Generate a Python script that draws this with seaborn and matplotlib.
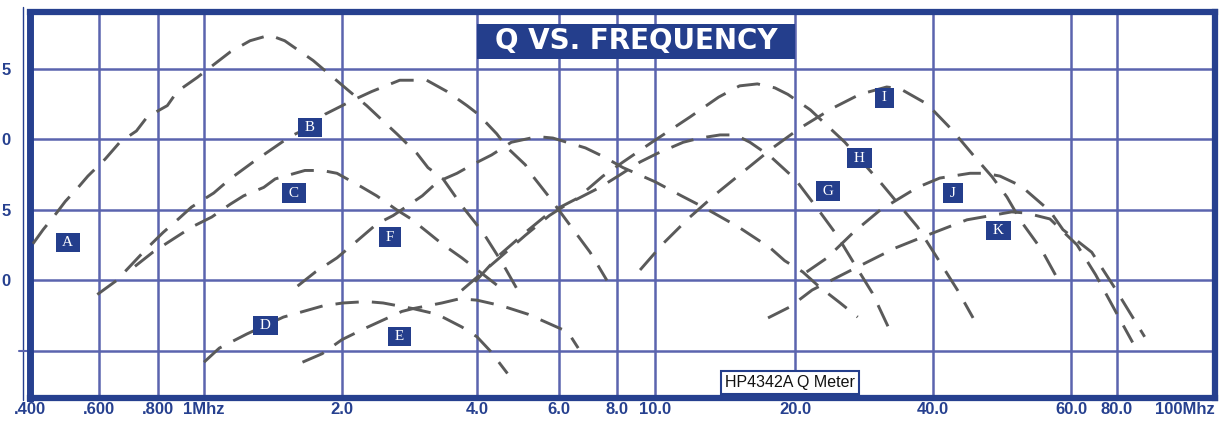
import numpy as np
import seaborn as sns
import matplotlib
matplotlib.use('Agg')
import matplotlib.pyplot as plt
from matplotlib.patches import Rectangle

sns.set_style('white')
plt.rcParams['font.family'] = ['Liberation Sans', 'DejaVu Sans']

border = '#26408F'
grid_c = '#5B64AE'
box_c = '#243E8C'
dash_c = '#5A5A5A'

# axis ticks
tick_freqs = [0.4, 0.6, 0.8, 1, 2, 4, 6, 8, 10, 20, 40, 60, 80, 100]
tick_labels = ['.400', '.600', '.800', '1Mhz', '2.0', '4.0', '6.0', '8.0',
               '10.0', '20.0', '40.0', '60.0', '80.0', '100Mhz']
q_ticks = [125, 150, 175, 200, 225]
q_labels = ['', '0', '5', '0', '5']

# Q curves, frequency in MHz
freq_A = [0.407, 0.432, 0.468, 0.492, 0.531, 0.562, 0.618, 0.664, 0.720, 0.759, 0.837, 0.878,
          0.968, 1.04, 1.14, 1.26, 1.39, 1.50, 1.73, 1.88, 2.08, 2.27, 2.49, 2.65, 2.94, 3.11,
          3.36, 3.72, 4.12, 4.54, 4.99]
q_A = [163, 168, 174, 178, 183, 187, 193, 199, 203, 208, 212, 217, 222, 226, 231, 235, 237, 235,
       228, 223, 217, 212, 206, 202, 195, 190, 186, 176, 167, 156, 144]

freq_B = [0.594, 0.654, 0.759, 0.820, 0.886, 0.941, 1.05, 1.14, 1.28, 1.39, 1.54, 1.68, 1.84,
          2.12, 2.33, 2.69, 2.91, 3.09, 3.43, 3.80, 4.02, 4.41, 4.65, 5.08, 5.27, 5.69, 6.31,
          7.0, 7.61]
q_B = [145, 150, 161.5, 167, 172, 176, 181, 186, 192, 196, 201, 204, 209, 214, 217, 221, 221,
       221, 217, 212, 209, 202, 197, 191, 187, 180, 170, 160, 150]

freq_C = [0.715, 0.780, 0.867, 0.944, 1.04, 1.14, 1.22, 1.35, 1.43, 1.66, 1.81, 1.95, 2.22,
          2.39, 2.65, 2.84, 3.11, 3.34, 3.70, 4.06, 4.52]
q_C = [155, 160, 165, 169, 172.5, 177, 180, 183, 186, 189, 189, 188, 183, 180, 175, 172, 167,
       163, 158, 153, 147]

freq_D = [1.0, 1.08, 1.24, 1.49, 1.82, 2.01, 2.27, 2.47, 2.88, 3.26, 3.70, 4.0, 4.27, 4.65]
q_D = [121, 126, 131, 137, 141, 142, 142.5, 142, 140, 138, 133.5, 130, 125, 117]

freq_E = [1.64, 1.81, 2.0, 2.25, 2.72, 2.88, 3.34, 3.66, 4.0, 4.52, 5.15, 6.12, 6.31, 6.6]
q_E = [121, 124, 129, 133, 139, 140, 142, 143.5, 143, 141, 138, 132.5, 131, 126]

freq_F = [1.60, 1.75, 1.95, 2.16, 2.39, 2.60, 3.02, 3.27, 3.61, 3.90, 4.30, 4.74, 5.39, 5.82,
          6.84, 7.46, 8.29, 10.0, 11.4, 12.7, 15.1, 17.7, 19.0, 20.8, 22.5, 25.1, 27.4]
q_F = [148, 153, 158, 164, 170, 173, 180, 185, 188, 191, 194.5, 199, 201, 200.5, 197, 194, 190,
       185, 180, 176, 169, 161.5, 157, 153, 148, 142, 137]

freq_G = [3.70, 4.47, 5.08, 5.72, 6.24, 7.35, 8.05, 9.16, 10.1, 11.5, 12.5, 13.8, 14.9, 16.0,
          17.7, 20.0, 22.5, 24.7, 26.8, 29.5, 32.7]
q_G = [146.5, 158, 166, 173, 177, 183, 187, 192, 195, 199, 200.5, 201.6, 201.6, 199, 194, 186,
       175, 166, 156.5, 145.5, 130]

freq_H = [3.96, 4.47, 5.08, 5.72, 6.55, 7.46, 8.29, 9.82, 11.9, 13.7, 15.2, 16.6, 18.1, 19.3,
          21.6, 25.7, 31.0, 37.0, 40.5, 43.0, 45.0]
q_H = [149.5, 159, 167, 174, 179, 187, 192, 199, 208, 215, 219, 219.7, 218.3, 216, 210.5, 199,
       184, 169, 158, 146.5, 136.7]

freq_I = [9.16, 10.4, 11.8, 13.6, 15.6, 17.9, 20.5, 24.1, 27.7, 31.7, 33.9, 38.8, 42.2, 45.0,
          47.6, 49.7, 51.8, 55.0, 57.7]
q_I = [153.7, 163, 172, 181, 189, 197, 204, 211, 216, 218.6, 218, 212.6, 203.7, 194.5, 186.7,
       179.6, 171, 161, 150.5]

freq_J = [21.2, 23.5, 26.8, 30.7, 37.0, 40.8, 44.6, 46.6, 48.7, 51.8, 56.4, 58.6, 68.3, 78.3, 85.2]
q_J = [153, 158, 167, 175, 183, 186.3, 188, 188, 187, 183.5, 174.6, 168, 160, 148, 130]

freq_K = [17.5, 19.5, 21.8, 27.4, 33.1, 38.8, 44.2, 50.4, 52.6, 56.4, 62.3, 70.0, 79.3, 82.9]
q_K = [136.7, 140.6, 146.6, 154.8, 161.5, 166, 171.5, 174.3, 173.9, 171.8, 162.6, 152, 139, 128]

curves = {'A': (freq_A, q_A), 'B': (freq_B, q_B), 'C': (freq_C, q_C), 'D': (freq_D, q_D),
          'E': (freq_E, q_E), 'F': (freq_F, q_F), 'G': (freq_G, q_G), 'H': (freq_H, q_H),
          'I': (freq_I, q_I), 'J': (freq_J, q_J), 'K': (freq_K, q_K)}

label_names = ['A', 'B', 'C', 'D', 'E', 'F', 'G', 'H', 'I', 'J', 'K']
label_freq = [0.50, 1.70, 1.57, 1.36, 2.69, 2.56, 23.6, 27.7, 31.4, 42.4, 48.5]
label_q = [163.3, 204.1, 181.0, 133.9, 130.0, 165.4, 181.7, 193.4, 214.7, 181.0, 167.6]

# the printed grid is hand spaced, not a true log scale
grid_px = [30, 99, 158, 204, 342, 477, 559, 617, 655, 795, 933, 1071, 1117, 1215]
log_ticks = np.log10(tick_freqs)


def fwd(f):
    f = np.clip(np.asarray(f, dtype=float), 1e-3, None)
    return np.interp(np.log10(f), log_ticks, grid_px)


def inv(x):
    return 10 ** np.interp(np.asarray(x, dtype=float), grid_px, log_ticks)


fig = plt.figure(figsize=(12.25, 4.21), dpi=100)
fig.patch.set_facecolor('white')
ax = fig.add_axes([30 / 1225, 23 / 421, 1185 / 1225, 386 / 421])
ax.set_xscale('function', functions=(fwd, inv))
ax.set_xlim(0.4, 100)
ax.set_ylim(108.3, 245.2)

ax.set_xticks(tick_freqs, tick_labels)
ax.set_yticks(q_ticks, q_labels)
ax.minorticks_off()
ax.grid(True, color=grid_c, lw=1.8, zorder=1)
ax.set_axisbelow(True)

for s in ax.spines.values():
    s.set_color(border)
    s.set_linewidth(4.5)
ax.spines['left'].set_linewidth(5)

ax.tick_params(axis='x', length=0, pad=3, labelsize=12, labelcolor=border)
ax.tick_params(axis='y', length=0, pad=14, labelsize=12, labelcolor=border)
for lbl in ax.get_xticklabels() + ax.get_yticklabels():
    lbl.set_fontweight('bold')
ax.get_xticklabels()[-1].set_ha('right')

for name, (f, q) in curves.items():
    sns.lineplot(x=f, y=q, ax=ax, color=dash_c, lw=2.1, linestyle=(0, (8, 4.5)),
                 sort=False, estimator=None, zorder=4)

for name, lf, lq in zip(label_names, label_freq, label_q):
    ax.text(lf, lq, ' ' + name + ' ', ha='center', va='center', color='white', fontsize=11,
            family=['Liberation Serif', 'DejaVu Serif'], zorder=6,
            bbox=dict(boxstyle='square,pad=0.2', fc=box_c, ec='none'))

# title block sits between the 4 MHz and 20 MHz grid lines
ax.add_patch(Rectangle((4, 228.5), 16, 12.5, fc=box_c, ec='none', zorder=5))
ax.text(8.94, 234.8, 'Q VS. FREQUENCY', color='white', fontweight='bold', fontsize=20,
        family=['DejaVu Sans'], ha='center', va='center', zorder=6)

ax.text(19.5, 113.7, 'HP4342A Q Meter', ha='center', va='center', fontsize=11.5, color='#111111',
        zorder=6, bbox=dict(boxstyle='square,pad=0.25', fc='white', ec=box_c, lw=1.5))

# thin rule left of the frame and the little tick at the lowest grid line
ax.plot([-0.0059, -0.0059], [-0.005, 1.013], transform=ax.transAxes, clip_on=False,
        color=border, lw=1)
ax.plot([-0.009, 0], [0.122, 0.122], transform=ax.transAxes, clip_on=False, color=grid_c, lw=1.5)

fig.savefig('out.png', dpi=100)
